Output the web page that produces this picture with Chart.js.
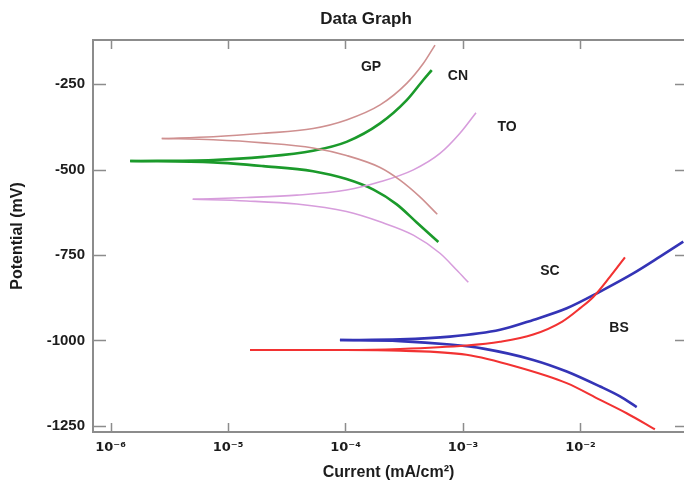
<!DOCTYPE html>
<html>
<head>
<meta charset="utf-8">
<script src="https://cdn.jsdelivr.net/npm/chart.js@4/dist/chart.umd.min.js"></script>
<style>
  html, body { margin: 0; padding: 0; background: #fff; }
  #wrap { width: 684px; height: 485px; }
</style>
</head>
<body>
<div id="wrap"><canvas id="tafel" width="684" height="485"></canvas></div>
<script>
// polarisation curves, current in mA/cm2, potential in mV
var gpAnodicI = [2.73e-6, 7.5e-6, 2.0e-5, 5.3e-5, 1.02e-4, 1.97e-4, 3.32e-4, 4.59e-4, 5.78e-4];
var gpAnodicE = [-409, -404, -394, -380, -355, -311, -248, -190, -136];
var gpCathodicI = [2.73e-6, 7.5e-6, 2.0e-5, 5.3e-5, 1.02e-4, 1.97e-4, 2.91e-4, 4.30e-4, 6.04e-4];
var gpCathodicE = [-409, -413, -422, -437, -459, -494, -531, -580, -631];

var cnAnodicI = [1.47e-6, 7.5e-6, 2.0e-5, 5.3e-5, 1.02e-4, 1.97e-4, 3.32e-4, 4.59e-4, 5.42e-4];
var cnAnodicE = [-475, -472, -463, -445, -419, -365, -297, -238, -209];
var cnCathodicI = [1.47e-6, 7.5e-6, 2.0e-5, 5.3e-5, 1.02e-4, 1.73e-4, 2.73e-4, 4.04e-4, 6.17e-4];
var cnCathodicE = [-475, -479, -490, -505, -528, -559, -602, -655, -712];

var toAnodicI = [5.01e-6, 1.44e-5, 3.85e-5, 1.02e-4, 1.97e-4, 3.78e-4, 6.37e-4, 9.42e-4, 1.29e-3];
var toAnodicE = [-587, -582, -575, -560, -536, -501, -453, -394, -334];
var toCathodicI = [5.01e-6, 1.44e-5, 3.85e-5, 1.02e-4, 1.97e-4, 3.78e-4, 6.37e-4, 8.83e-4, 1.11e-3];
var toCathodicE = [-587, -592, -601, -623, -653, -692, -745, -794, -830];

var bsAnodicI = [8.97e-5, 2.91e-4, 7.74e-4, 2.07e-3, 3.96e-3, 7.64e-3, 1.47e-2, 2.81e-2, 4.75e-2, 7.5e-2];
var bsAnodicE = [-999, -997, -989, -969, -940, -906, -857, -804, -755, -711];
var bsCathodicI = [8.97e-5, 2.91e-4, 7.74e-4, 1.49e-3, 3.96e-3, 7.64e-3, 1.47e-2, 2.17e-2, 3.01e-2];
var bsCathodicE = [-999, -1002, -1012, -1024, -1057, -1091, -1135, -1164, -1195];

var scAnodicI = [1.54e-5, 1.0e-4, 2.91e-4, 1.07e-3, 2.07e-3, 3.96e-3, 7.0e-3, 1.0e-2, 1.29e-2, 1.78e-2, 2.39e-2];
var scAnodicE = [-1028, -1028, -1025, -1015, -1004, -983, -945, -905, -872, -814, -757];
var scCathodicI = [1.54e-5, 1.0e-4, 2.91e-4, 1.07e-3, 2.86e-3, 7.64e-3, 1.47e-2, 2.47e-2, 4.30e-2];
var scCathodicE = [-1028, -1028, -1030, -1042, -1077, -1125, -1174, -1213, -1260];

// curve labels written on the plot
var curveNames = ['GP', 'CN', 'TO', 'SC', 'BS'];
var labelI = [1.65e-4, 9.06e-4, 2.37e-3, 5.49e-3, 2.13e-2];
var labelE = [-200, -227, -376, -797, -963];

// axes
var xDecades = [-6, -5, -4, -3, -2];
var yTicks = [-1250, -1000, -750, -500, -250];
var xMin = Math.pow(10, -6.149), xMax = Math.pow(10, -1.119);
var yMin = -1268, yMax = -121;

var curveColors = {
	GP: '#cf9090',
	CN: '#1b9a2b',
	TO: '#d79ddc',
	BS: '#3434b6',
	SC: '#f23232'
};
var curveWidths = { GP: 1.6, CN: 2.6, TO: 1.6, BS: 2.6, SC: 2.1 };

function toPoints(xs, ys) {
	var pts = [];
	for (var i = 0; i < xs.length; i++) pts.push({ x: xs[i], y: ys[i] });
	return pts;
}

function branch(name, xs, ys) {
	return {
		label: name,
		data: toPoints(xs, ys),
		showLine: true,
		borderColor: curveColors[name],
		backgroundColor: curveColors[name],
		borderWidth: curveWidths[name],
		pointRadius: 0,
		cubicInterpolationMode: 'monotone',
		fill: false
	};
}

var supMap = { '-': '\u207B', '0': '\u2070', '1': '\u00B9', '2': '\u00B2', '3': '\u00B3', '4': '\u2074', '5': '\u2075', '6': '\u2076', '7': '\u2077', '8': '\u2078', '9': '\u2079' };
function powerLabel(v) {
	var e = String(Math.round(Math.log10(v)));
	var s = '';
	for (var i = 0; i < e.length; i++) s += supMap[e[i]];
	return '10' + s;
}

var frameColor = '#8c8c8c';
var textColor = '#1c1c1c';

var decorPlugin = {
	id: 'decor',
	afterDraw: function(chart) {
		var ctx = chart.ctx;
		var a = chart.chartArea;
		var xs = chart.scales.x, ys = chart.scales.y;
		ctx.save();
		// frame: left, top, bottom (right edge runs off the picture)
		ctx.strokeStyle = frameColor;
		ctx.lineWidth = 2;
		ctx.beginPath();
		ctx.moveTo(a.right + 2, a.top);
		ctx.lineTo(a.left, a.top);
		ctx.lineTo(a.left, a.bottom);
		ctx.lineTo(a.right + 2, a.bottom);
		ctx.stroke();
		// inward tick marks
		ctx.lineWidth = 1.5;
		ctx.beginPath();
		xDecades.forEach(function(d) {
			var px = Math.round(xs.getPixelForValue(Math.pow(10, d))) + 0.5;
			ctx.moveTo(px, a.bottom); ctx.lineTo(px, a.bottom - 9);
			ctx.moveTo(px, a.top); ctx.lineTo(px, a.top + 9);
		});
		yTicks.forEach(function(v) {
			var py = Math.round(ys.getPixelForValue(v)) + 0.5;
			ctx.moveTo(a.left, py); ctx.lineTo(a.left + 13, py);
			ctx.moveTo(a.right, py); ctx.lineTo(a.right - 9, py);
		});
		ctx.stroke();
		// curve names
		ctx.fillStyle = textColor;
		ctx.font = 'bold 14px "Liberation Sans Narrow", "Liberation Sans", Arial, sans-serif';
		ctx.textAlign = 'center';
		ctx.textBaseline = 'middle';
		curveNames.forEach(function(n, i) {
			ctx.fillText(n, xs.getPixelForValue(labelI[i]), ys.getPixelForValue(labelE[i]));
		});
		// chart title
		ctx.font = 'bold 17px "Liberation Sans", Arial, sans-serif';
		ctx.fillText('Data Graph', 366, 19);
		ctx.restore();
	}
};

var config = {
	type: 'scatter',
	data: {
		datasets: [
			branch('GP', gpAnodicI, gpAnodicE),
			branch('GP', gpCathodicI, gpCathodicE),
			branch('TO', toAnodicI, toAnodicE),
			branch('TO', toCathodicI, toCathodicE),
			branch('CN', cnAnodicI, cnAnodicE),
			branch('CN', cnCathodicI, cnCathodicE),
			branch('SC', scAnodicI, scAnodicE),
			branch('SC', scCathodicI, scCathodicE),
			branch('BS', bsAnodicI, bsAnodicE),
			branch('BS', bsCathodicI, bsCathodicE)
		]
	},
	options: {
		responsive: false,
		animation: false,
		devicePixelRatio: 1,
		layout: { padding: { top: 40, right: 0, bottom: 0, left: 0 } },
		plugins: {
			legend: { display: false },
			tooltip: { enabled: false },
			title: { display: false }
		},
		scales: {
			x: {
				type: 'logarithmic',
				min: xMin,
				max: xMax,
				grid: { display: false, drawTicks: false },
				border: { display: false },
				afterBuildTicks: function(scale) {
					scale.ticks = xDecades.map(function(d) { return { value: Math.pow(10, d) }; });
				},
				afterFit: function(scale) { scale.height = 53; },
				ticks: {
					padding: 8,
					color: textColor,
					maxRotation: 0,
					autoSkip: false,
					font: { family: '"DejaVu Sans", sans-serif', size: 13, weight: 'bold' },
					callback: function(v) { return powerLabel(v); }
				},
				title: {
					display: true,
					text: 'Current (mA/cm\u00B2)',
					color: textColor,
					padding: { top: 0, bottom: 3 },
					font: { family: '"Liberation Sans", Arial, sans-serif', size: 16, weight: 'bold' }
				}
			},
			y: {
				type: 'linear',
				min: yMin,
				max: yMax,
				grid: { display: false, drawTicks: false },
				border: { display: false },
				afterBuildTicks: function(scale) {
					scale.ticks = yTicks.map(function(v) { return { value: v }; });
				},
				afterFit: function(scale) { scale.width = 93; },
				ticks: {
					padding: 8,
					color: textColor,
					font: { family: '"Liberation Sans", Arial, sans-serif', size: 15, weight: 'bold' },
					callback: function(v) { return String(v); }
				},
				title: {
					display: true,
					text: 'Potential (mV)',
					color: textColor,
					padding: { top: 8, bottom: 0 },
					font: { family: '"Liberation Sans", Arial, sans-serif', size: 16, weight: 'bold' }
				}
			}
		}
	},
	plugins: [decorPlugin]
};

window.tafel_chart = new Chart(document.getElementById('tafel').getContext('2d'), config);
</script>
</body>
</html>
